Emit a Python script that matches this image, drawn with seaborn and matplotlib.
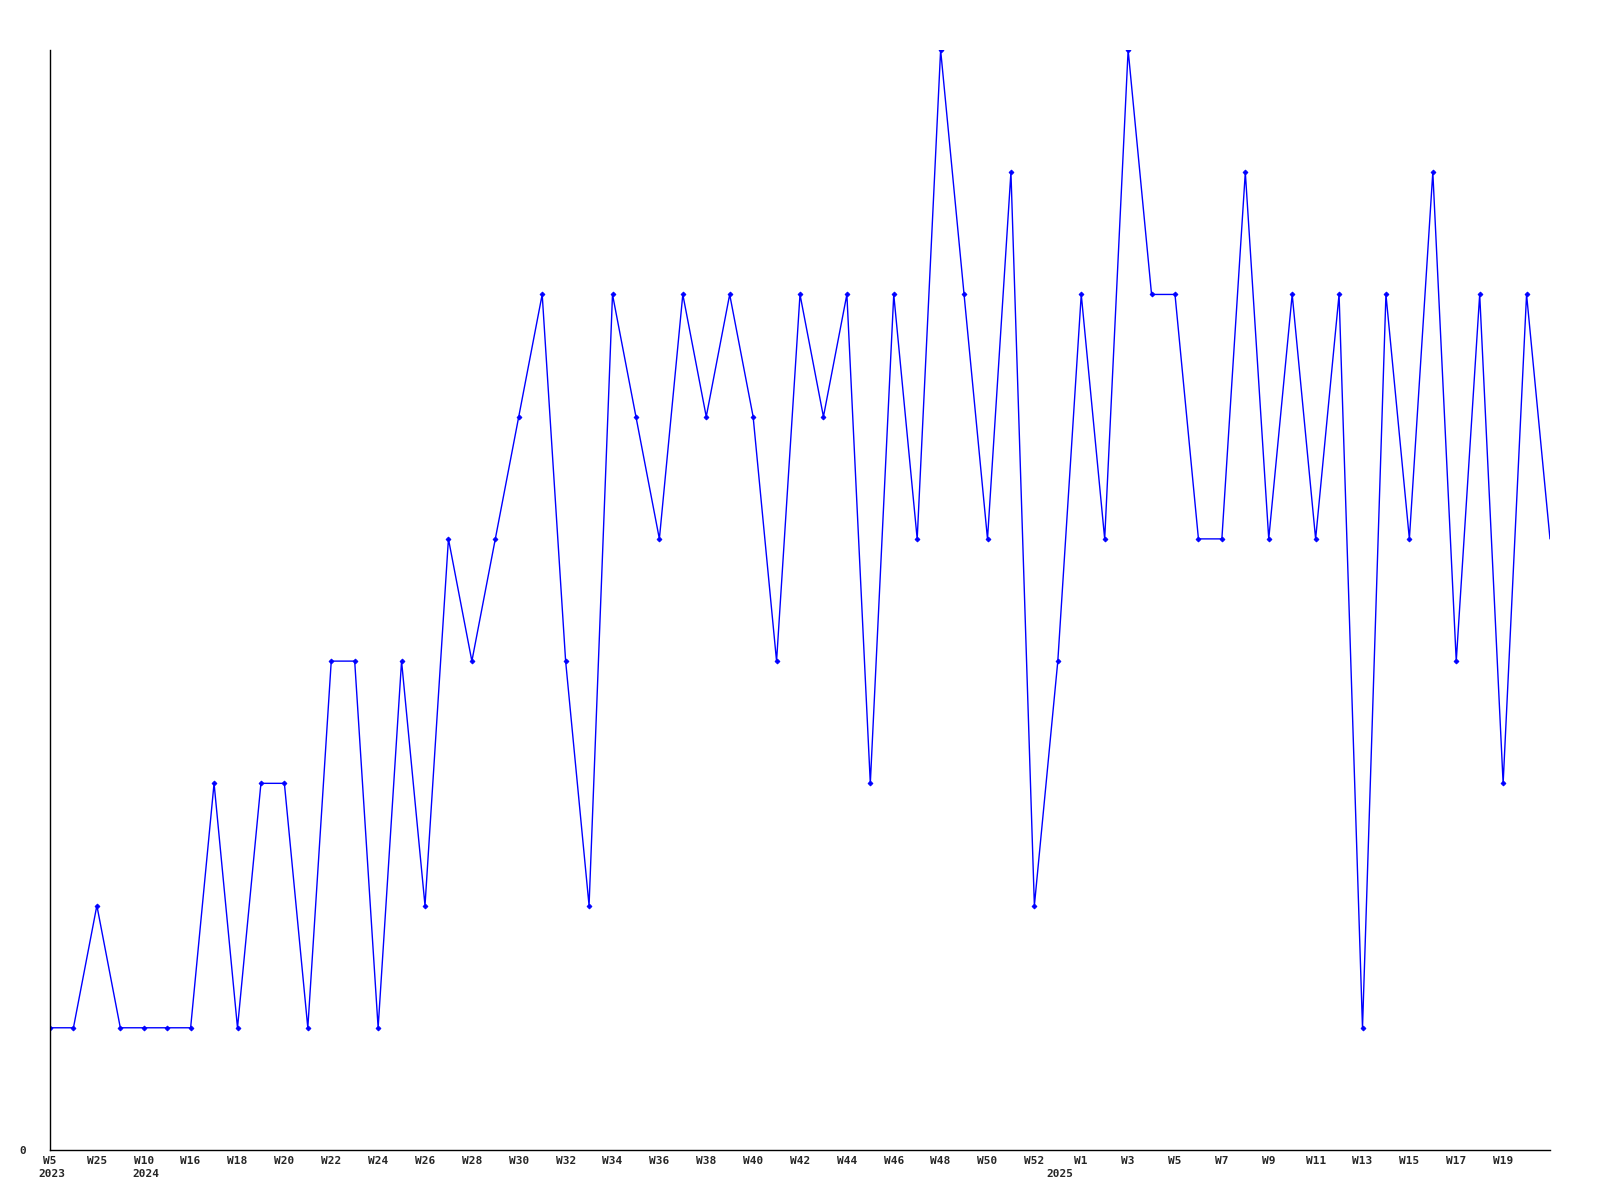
import matplotlib
matplotlib.use("Agg")
import matplotlib.pyplot as plt
import numpy as np
import pandas as pd
import seaborn as sns

# Weekly counts (one per week)
counts = [1, 1, 2, 1, 1, 1, 1, 3, 1, 3, 3, 1, 4, 4, 1, 4, 2, 5, 4, 5,
          6, 7, 4, 2, 7, 6, 5, 7, 6, 7, 6, 4, 7, 6, 7, 3, 7, 5, 9, 7,
          5, 8, 2, 4, 7, 5, 9, 7, 7, 5, 5, 8, 5, 7, 5, 7, 1, 7, 5, 8,
          4, 7, 3, 7, 5]

# Tick labels (every second week)
week_labels = ["W5", "W25", "W10", "W16", "W18", "W20", "W22", "W24", "W26", "W28",
               "W30", "W32", "W34", "W36", "W38", "W40", "W42", "W44", "W46", "W48",
               "W50", "W52", "W1", "W3", "W5", "W7", "W9", "W11", "W13", "W15",
               "W17", "W19"]
year_labels = ["2023", "2024", "2025"]
year_at = [0, 4, 43]

df = pd.DataFrame({"week": np.arange(len(counts)), "count": counts})

sns.set_style("white")
plt.rcParams["font.family"] = ["DejaVu Sans Mono"]

fig = plt.figure(figsize=(16, 12), dpi=100)
ax = fig.add_axes([50 / 1600, 50 / 1200, 1500 / 1600, 1100 / 1200])

sns.lineplot(
    data=df,
    x="week",
    y="count",
    ax=ax,
    color="#0000ff",
    linewidth=1,
    marker="D",
    markersize=2.5,
    markeredgewidth=0.6,
    markeredgecolor="#0000ff",
    markevery=list(range(len(counts) - 1)),
)

ax.set_xlim(0, len(counts) - 1)
ax.set_ylim(0, 9)

for side in ["top", "right"]:
    ax.spines[side].set_visible(False)
for side in ["left", "bottom"]:
    ax.spines[side].set_color("black")
    ax.spines[side].set_linewidth(1)

ax.set_yticks([0])
ax.set_yticklabels(["0"], fontsize=8, fontweight="bold")
ax.tick_params(axis="y", length=0, pad=17)

ax.set_xticks(np.arange(0, len(counts) - 1, 2))
ax.set_xticklabels(week_labels, fontsize=8, fontweight="bold")
ax.tick_params(axis="x", length=0, pad=4)

# year labels below the week labels
for lab, pos in zip(year_labels, year_at):
    ax.text(pos + 0.1, -19 / 1100, lab, transform=ax.get_xaxis_transform(),
            ha="center", va="top", fontsize=8, fontweight="bold")

ax.set_xlabel("")
ax.set_ylabel("")

fig.savefig("out.png", dpi=100)
